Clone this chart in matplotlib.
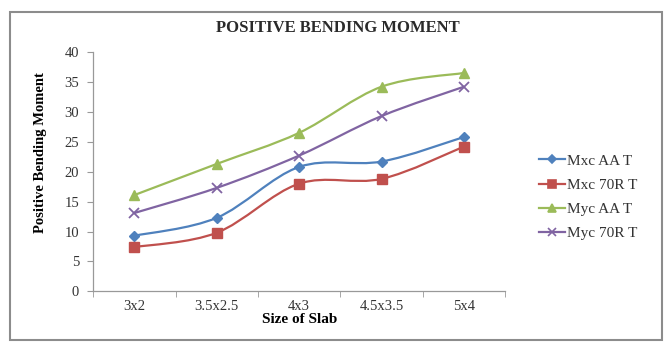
import matplotlib
matplotlib.use("Agg")
import matplotlib.pyplot as plt
import numpy as np
from matplotlib.path import Path
from matplotlib.patches import PathPatch, Rectangle
from matplotlib.lines import Line2D

plt.rcParams['font.family'] = ['Liberation Serif', 'DejaVu Serif']

sizes = ['3x2', '3.5x2.5', '4x3', '4.5x3.5', '5x4']
mxc_aa = [9.3, 12.3, 20.8, 21.7, 25.8]
mxc_70r = [7.4, 9.8, 18.0, 18.8, 24.2]
myc_aa = [16.1, 21.3, 26.5, 34.2, 36.5]
myc_70r = [13.1, 17.3, 22.7, 29.3, 34.2]

series = [
    ('Mxc AA T', mxc_aa, '#4F81BD', 'D', 5.5),
    ('Mxc 70R T', mxc_70r, '#C0504D', 's', 7),
    ('Myc AA T', myc_aa, '#9BBB59', '^', 7),
    ('Myc 70R T', myc_70r, '#8064A2', 'x', 7),
]


def smooth_path(x, y):
    # Catmull-Rom style bezier through the points, like a spreadsheet "smoothed line"
    pts = np.column_stack([x, y]).astype(float)
    verts = [pts[0]]
    codes = [Path.MOVETO]
    n = len(pts)
    for i in range(n - 1):
        p0 = pts[i - 1] if i > 0 else pts[i]
        p1 = pts[i]
        p2 = pts[i + 1]
        p3 = pts[i + 2] if i + 2 < n else pts[i + 1]
        c1 = p1 + (p2 - p0) / 6.0
        c2 = p2 - (p3 - p1) / 6.0
        verts += [c1, c2, p2]
        codes += [Path.CURVE4] * 3
    return Path(verts, codes)


fig = plt.figure(figsize=(6.7, 3.49), dpi=100)
ax = fig.add_axes([0.139, 0.165, 0.615, 0.686])

x = np.arange(len(sizes))
handles = []
for name, vals, col, mk, ms in series:
    ax.add_patch(PathPatch(smooth_path(x, vals), facecolor='none', edgecolor=col, lw=1.6, zorder=2))
    if mk == 'x':
        ax.plot(x, vals, ls='none', marker=mk, ms=ms, mec=col, mew=1.3, zorder=3)
    else:
        ax.plot(x, vals, ls='none', marker=mk, ms=ms, mfc=col, mec=col, zorder=3)
    handles.append(Line2D([], [], color=col, lw=1.6, marker=mk, ms=ms * 0.8,
                          mfc=col, mec=col, mew=1.2, label=name))

ax.set_xlim(-0.5, len(sizes) - 0.5)
ax.set_ylim(0, 40)
ax.set_yticks(range(0, 41, 5))
ax.set_xticks(x)
ax.set_xticklabels(sizes)
ax.set_xticks(np.arange(-0.5, len(sizes), 1.0), minor=True)
ax.tick_params(axis='x', which='major', length=0, labelsize=10.5, pad=6, colors='#333333')
ax.tick_params(axis='x', which='minor', length=4, color='#999999', direction='out')
ax.tick_params(axis='y', length=4, color='#999999', labelsize=10.5, pad=6, labelcolor='#333333')
for s in ['top', 'right']:
    ax.spines[s].set_visible(False)
for s in ['left', 'bottom']:
    ax.spines[s].set_color('#999999')
    ax.spines[s].set_linewidth(0.9)

ax.set_xlabel('Size of Slab', fontsize=11, fontweight='bold', labelpad=0)
ax.set_ylabel('Positive Bending Moment', fontsize=10.5, fontweight='bold')
ax.yaxis.set_label_coords(-0.112, 0.578)
fig.text(0.505, 0.921, 'POSITIVE BENDING MOMENT', ha='center', va='center',
         fontsize=12, fontweight='bold', color='#2a2a2a')

fig.legend(handles=handles, loc='upper left', bbox_to_anchor=(0.784, 0.598),
           frameon=False, fontsize=11, handlelength=1.7, handletextpad=0.15,
           labelspacing=0.69, labelcolor='#333333')

# outer chart frame
fig.patches.append(Rectangle((10 / 670, 9 / 349), 652 / 670, 328 / 349,
                             transform=fig.transFigure, fill=False,
                             edgecolor='#8c8c8c', lw=1.5))

fig.savefig('out.png', dpi=100)
